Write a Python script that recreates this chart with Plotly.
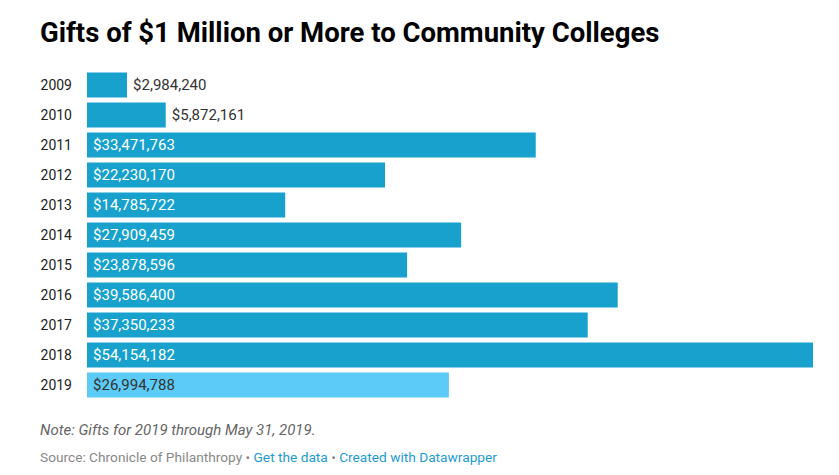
import plotly.graph_objects as go

years = ["2009", "2010", "2011", "2012", "2013", "2014", "2015", "2016", "2017", "2018", "2019"]
gifts = [2984240, 5872161, 33471763, 22230170, 14785722, 27909459, 23878596, 39586400, 37350233, 54154182, 26994788]

W, H = 839, 475
# the page places the figure at an 8px offset; coordinates below are figure pixels
L, R, T, B = 79, 34, 62, 83

bar_colors = ["#18a1cd"] * 10 + ["#5ccbf7"]
positions = ["outside", "outside"] + ["inside"] * 9
text_colors = ["#333333", "#333333"] + ["#ffffff"] * 8 + ["#333333"]

fig = go.Figure(go.Bar(
    x=gifts, y=years, orientation="h",
    marker=dict(color=bar_colors, line=dict(width=0)),
    texttemplate="\u2009$%{x:,}",
    textposition=positions,
    insidetextanchor="start",
    textfont=dict(family="Roboto", size=15, color=text_colors),
    cliponaxis=False,
    hoverinfo="skip",
))

pw = W - L - R
def px(xpix):
    return (xpix - L) / pw

ph = H - T - B
def py(ypix):
    return 1 - (ypix - T) / ph

fig.update_layout(
    width=W, height=H,
    margin=dict(l=L, r=R, t=T, b=B, pad=0),
    paper_bgcolor="white", plot_bgcolor="white",
    bargap=1/6,
    showlegend=False,
    font=dict(family="Roboto", color="#333333"),
    title=dict(
        text="<b>Gifts of $1 Million or More to Community Colleges</b>",
        x=32 / W, xanchor="left", xref="container",
        y=1 - 24 / H, yanchor="middle", yref="container",
        font=dict(family="Roboto", size=27.5, color="#000000"),
    ),
    xaxis=dict(range=[0, max(gifts)], visible=False, fixedrange=True),
    yaxis=dict(
        autorange="reversed", showgrid=False, zeroline=False, showline=False,
        ticks="", ticklabelstandoff=14,
        tickfont=dict(family="Roboto", size=14, color="#222222"),
        fixedrange=True,
    ),
    annotations=[
        dict(text="<i>Note: Gifts for 2019 through May 31, 2019.</i>",
             xref="paper", yref="paper", x=px(30), y=py(422), xanchor="left", yanchor="middle",
             showarrow=False, font=dict(family="Roboto", size=15, color="#666666")),
        dict(text="Source: Chronicle of Philanthropy • <span style='color:#1d9bcf'>Get the data</span> • <span style='color:#1d9bcf'>Created with Datawrapper</span>",
             xref="paper", yref="paper", x=px(30), y=py(448.5), xanchor="left", yanchor="middle",
             showarrow=False, font=dict(family="Roboto", size=13.7, color="#888888")),
    ],
)

fig.write_html("out.html")
